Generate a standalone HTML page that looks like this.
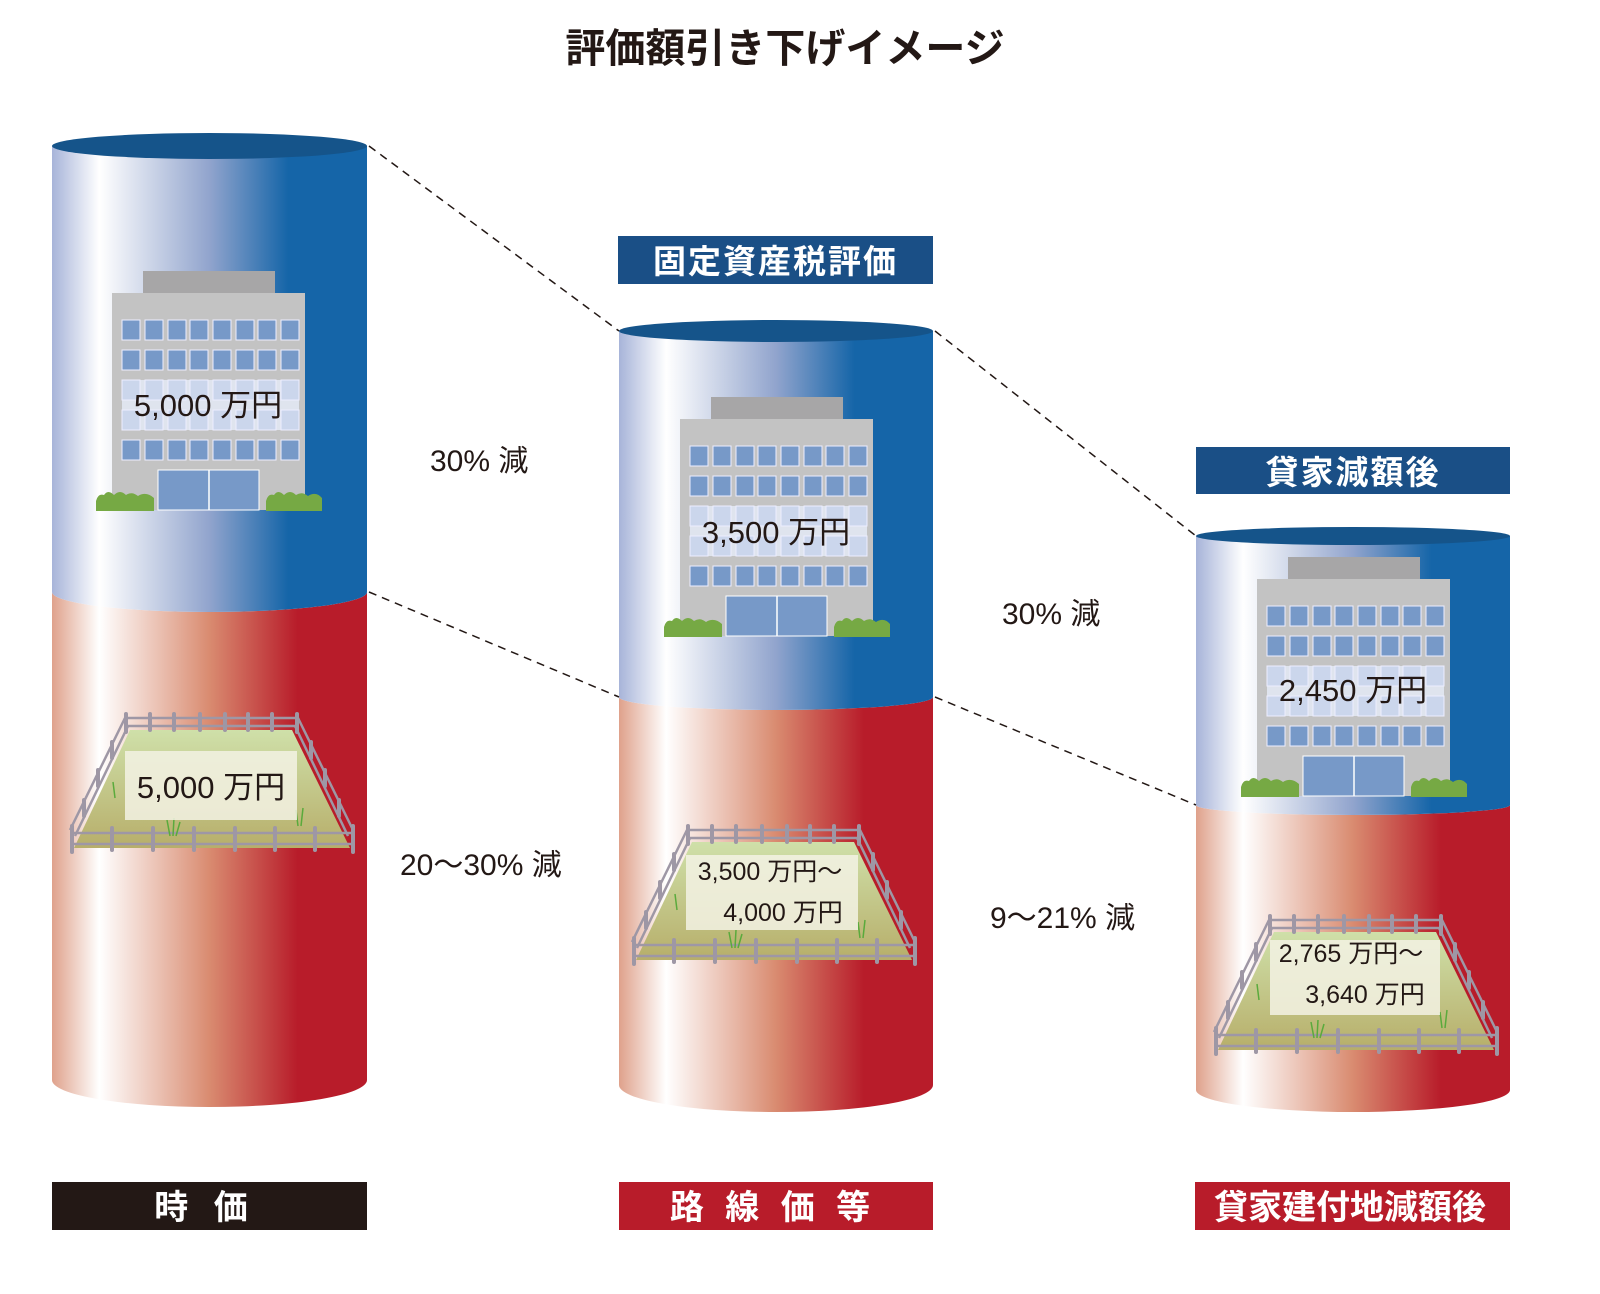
<!DOCTYPE html>
<html><head><meta charset="utf-8"><style>
html,body{margin:0;padding:0;background:#fff;overflow:hidden;width:1600px;height:1294px;}
svg{display:block;}
text{font-family:"Liberation Sans","Noto Sans CJK JP",sans-serif;}
</style></head><body>
<svg width="1600" height="1294" viewBox="0 0 1600 1294" xmlns="http://www.w3.org/2000/svg">
<defs>
<linearGradient id="gb" x1="0" x2="1" y1="0" y2="0">
<stop offset="0" stop-color="#a7b4d9"/><stop offset="0.15" stop-color="#ffffff"/><stop offset="0.5" stop-color="#91a4cd"/><stop offset="0.75" stop-color="#1565a8"/><stop offset="1" stop-color="#1565a8"/>
</linearGradient>
<linearGradient id="gr" x1="0" x2="1" y1="0" y2="0">
<stop offset="0" stop-color="#dfa18b"/><stop offset="0.15" stop-color="#ffffff"/><stop offset="0.5" stop-color="#d98b70"/><stop offset="0.78" stop-color="#b81c2a"/><stop offset="1" stop-color="#b81c2a"/>
</linearGradient>
<linearGradient id="gg" x1="0" x2="0" y1="0" y2="1">
<stop offset="0" stop-color="#cfe0a9"/><stop offset="1" stop-color="#b7ae6a"/>
</linearGradient>
<g id="bld">
<rect x="31" y="-22" width="132" height="22" fill="#a7a6a7"/>
<rect x="0" y="0" width="193" height="217" fill="#c3c3c3"/>
<g fill="#7799c8" stroke="#eef" stroke-width="1">
<rect x="10" y="27" width="18" height="20"/><rect x="33" y="27" width="18" height="20"/><rect x="56" y="27" width="18" height="20"/><rect x="78" y="27" width="18" height="20"/><rect x="101" y="27" width="18" height="20"/><rect x="124" y="27" width="18" height="20"/><rect x="146" y="27" width="18" height="20"/><rect x="169" y="27" width="18" height="20"/>
<rect x="10" y="57" width="18" height="20"/><rect x="33" y="57" width="18" height="20"/><rect x="56" y="57" width="18" height="20"/><rect x="78" y="57" width="18" height="20"/><rect x="101" y="57" width="18" height="20"/><rect x="124" y="57" width="18" height="20"/><rect x="146" y="57" width="18" height="20"/><rect x="169" y="57" width="18" height="20"/>
<rect x="10" y="147" width="18" height="20"/><rect x="33" y="147" width="18" height="20"/><rect x="56" y="147" width="18" height="20"/><rect x="78" y="147" width="18" height="20"/><rect x="101" y="147" width="18" height="20"/><rect x="124" y="147" width="18" height="20"/><rect x="146" y="147" width="18" height="20"/><rect x="169" y="147" width="18" height="20"/>
</g>
<rect x="10" y="87" width="177" height="50" fill="#dfe4ee"/>
<g fill="#cbd6ec" stroke="#eef" stroke-width="1">
<rect x="10" y="87" width="18" height="20"/><rect x="33" y="87" width="18" height="20"/><rect x="56" y="87" width="18" height="20"/><rect x="78" y="87" width="18" height="20"/><rect x="101" y="87" width="18" height="20"/><rect x="124" y="87" width="18" height="20"/><rect x="146" y="87" width="18" height="20"/><rect x="169" y="87" width="18" height="20"/>
<rect x="10" y="117" width="18" height="20"/><rect x="33" y="117" width="18" height="20"/><rect x="56" y="117" width="18" height="20"/><rect x="78" y="117" width="18" height="20"/><rect x="101" y="117" width="18" height="20"/><rect x="124" y="117" width="18" height="20"/><rect x="146" y="117" width="18" height="20"/><rect x="169" y="117" width="18" height="20"/>
</g>
<rect x="46" y="177" width="101" height="40" fill="#7799c8" stroke="#fff" stroke-width="1"/>
<line x1="97" y1="177" x2="97" y2="217" stroke="#fff" stroke-width="1.5"/>
<path d="M-16 218 V208 Q-14 200 -8 202 Q-4 196 2 202 Q8 196 14 202 Q20 198 26 203 Q34 198 42 205 V218 Z" fill="#76a944"/>
<path d="M154 218 V208 Q156 200 162 202 Q166 196 172 202 Q178 196 184 202 Q190 198 196 203 Q204 198 210 205 V218 Z" fill="#76a944"/>
</g>
<g id="land">
<path d="M60 12 L222 12 L280 130 L4 130 Z" fill="url(#gg)"/>
<g stroke="#9e97a5" stroke-width="2.5" fill="none">
<line x1="55" y1="0" x2="228" y2="0"/><line x1="55" y1="8" x2="228" y2="8"/>
<line x1="55" y1="0" x2="0" y2="112"/><line x1="58" y1="8" x2="5" y2="118"/>
<line x1="228" y1="0" x2="283" y2="112"/><line x1="225" y1="8" x2="278" y2="118"/>
<line x1="0" y1="115" x2="283" y2="115"/><line x1="0" y1="126" x2="283" y2="126"/>
</g>
<g stroke="#9e97a5" stroke-width="4" stroke-linecap="round">
<line x1="56" y1="-4" x2="56" y2="14"/><line x1="80" y1="-4" x2="80" y2="12"/><line x1="104" y1="-4" x2="104" y2="12"/><line x1="130" y1="-4" x2="130" y2="12"/><line x1="155" y1="-4" x2="155" y2="12"/><line x1="178" y1="-4" x2="178" y2="12"/><line x1="202" y1="-4" x2="202" y2="12"/><line x1="227" y1="-4" x2="227" y2="14"/>
<line x1="42" y1="24" x2="42" y2="40"/><line x1="28" y1="52" x2="28" y2="68"/><line x1="14" y1="82" x2="14" y2="98"/>
<line x1="241" y1="24" x2="241" y2="40"/><line x1="255" y1="52" x2="255" y2="68"/><line x1="269" y1="82" x2="269" y2="98"/>
<line x1="2" y1="108" x2="2" y2="134"/><line x1="42" y1="110" x2="42" y2="132"/><line x1="83" y1="110" x2="83" y2="132"/><line x1="124" y1="110" x2="124" y2="132"/><line x1="165" y1="110" x2="165" y2="132"/><line x1="205" y1="110" x2="205" y2="132"/><line x1="245" y1="110" x2="245" y2="132"/><line x1="283" y1="108" x2="283" y2="134"/>
</g>
<g stroke="#5aaa3c" stroke-width="1.5"><path d="M100 118 l-3 -16 M103 118 l1 -18 M106 118 l4 -14"/><path d="M228 108 l-2 -16 M231 108 l2 -18"/><path d="M45 80 l-2 -16"/></g>
</g>
</defs>

<text x="785" y="62" font-size="40" font-weight="bold" text-anchor="middle" fill="#231815">評価額引き下げイメージ</text>

<path d="M52 1080 V592 A157.5 20 0 0 0 367 592 V1080 A157.5 27 0 0 1 52 1080 Z" fill="url(#gr)"/>
<path d="M52 146 V592 A157.5 20 0 0 0 367 592 V146 Z" fill="url(#gb)"/>
<ellipse cx="209.5" cy="146" rx="157.5" ry="13" fill="#15548a"/>
<use href="#bld" x="112" y="293"/>
<text x="208" y="416" font-size="31" text-anchor="middle" fill="#231815">5,000 万円</text>
<use href="#land" x="70" y="718"/>
<rect x="125" y="751" width="172" height="69" fill="#f3f2e4" opacity="0.85"/>
<text x="211" y="798" font-size="31" text-anchor="middle" fill="#231815">5,000 万円</text>

<path d="M619 1085 V697 A157 13 0 0 0 933 697 V1085 A157 27 0 0 1 619 1085 Z" fill="url(#gr)"/>
<path d="M619 331 V697 A157 13 0 0 0 933 697 V331 Z" fill="url(#gb)"/>
<ellipse cx="776" cy="331" rx="157" ry="11" fill="#15548a"/>
<use href="#bld" x="680" y="419"/>
<text x="776" y="543" font-size="31" text-anchor="middle" fill="#231815">3,500 万円</text>
<use href="#land" x="632" y="830"/>
<rect x="686" y="855" width="172" height="75" fill="#f3f2e4" opacity="0.85"/>
<text x="770" y="880" font-size="25" text-anchor="middle" fill="#231815">3,500 万円〜</text>
<text x="783" y="921" font-size="25" text-anchor="middle" fill="#231815">4,000 万円</text>

<path d="M1196 1090 V805 A157 10 0 0 0 1510 805 V1090 A157 22 0 0 1 1196 1090 Z" fill="url(#gr)"/>
<path d="M1196 536 V805 A157 10 0 0 0 1510 805 V536 Z" fill="url(#gb)"/>
<ellipse cx="1353" cy="536" rx="157" ry="9" fill="#15548a"/>
<use href="#bld" x="1257" y="579"/>
<text x="1353" y="701" font-size="31" text-anchor="middle" fill="#231815">2,450 万円</text>
<use href="#land" x="1214" y="920"/>
<rect x="1270" y="940" width="170" height="75" fill="#f3f2e4" opacity="0.85"/>
<text x="1351" y="962" font-size="25" text-anchor="middle" fill="#231815">2,765 万円〜</text>
<text x="1365" y="1003" font-size="25" text-anchor="middle" fill="#231815">3,640 万円</text>

<g stroke="#231815" stroke-width="1.5" stroke-dasharray="8,6" fill="none">
<line x1="369" y1="146" x2="619" y2="331"/>
<line x1="935" y1="331" x2="1196" y2="536"/>
<line x1="369" y1="592" x2="619" y2="697"/>
<line x1="935" y1="697" x2="1196" y2="805"/>
</g>

<g font-size="30" fill="#231815">
<text x="430" y="471">30% 減</text>
<text x="400" y="875">20〜30% 減</text>
<text x="1002" y="624">30% 減</text>
<text x="990" y="928">9〜21% 減</text>
</g>

<rect x="618" y="236" width="315" height="48" fill="#1a4f86"/>
<text x="775.5" y="273" font-size="33" font-weight="bold" text-anchor="middle" fill="#fff" letter-spacing="2">固定資産税評価</text>
<rect x="1196" y="447" width="314" height="47" fill="#1a4f86"/>
<text x="1353" y="484" font-size="33" font-weight="bold" text-anchor="middle" fill="#fff" letter-spacing="2">貸家減額後</text>

<rect x="52" y="1182" width="315" height="48" fill="#231815"/>
<text x="205" y="1219" font-size="34" font-weight="bold" text-anchor="middle" fill="#fff" letter-spacing="8">時 価</text>
<rect x="619" y="1182" width="314" height="48" fill="#b81c2a"/>
<text x="773" y="1219" font-size="34" font-weight="bold" text-anchor="middle" fill="#fff" letter-spacing="6">路 線 価 等</text>
<rect x="1195" y="1182" width="315" height="48" fill="#b81c2a"/>
<text x="1350" y="1219" font-size="34" font-weight="bold" text-anchor="middle" fill="#fff">貸家建付地減額後</text>
</svg>
</body></html>
